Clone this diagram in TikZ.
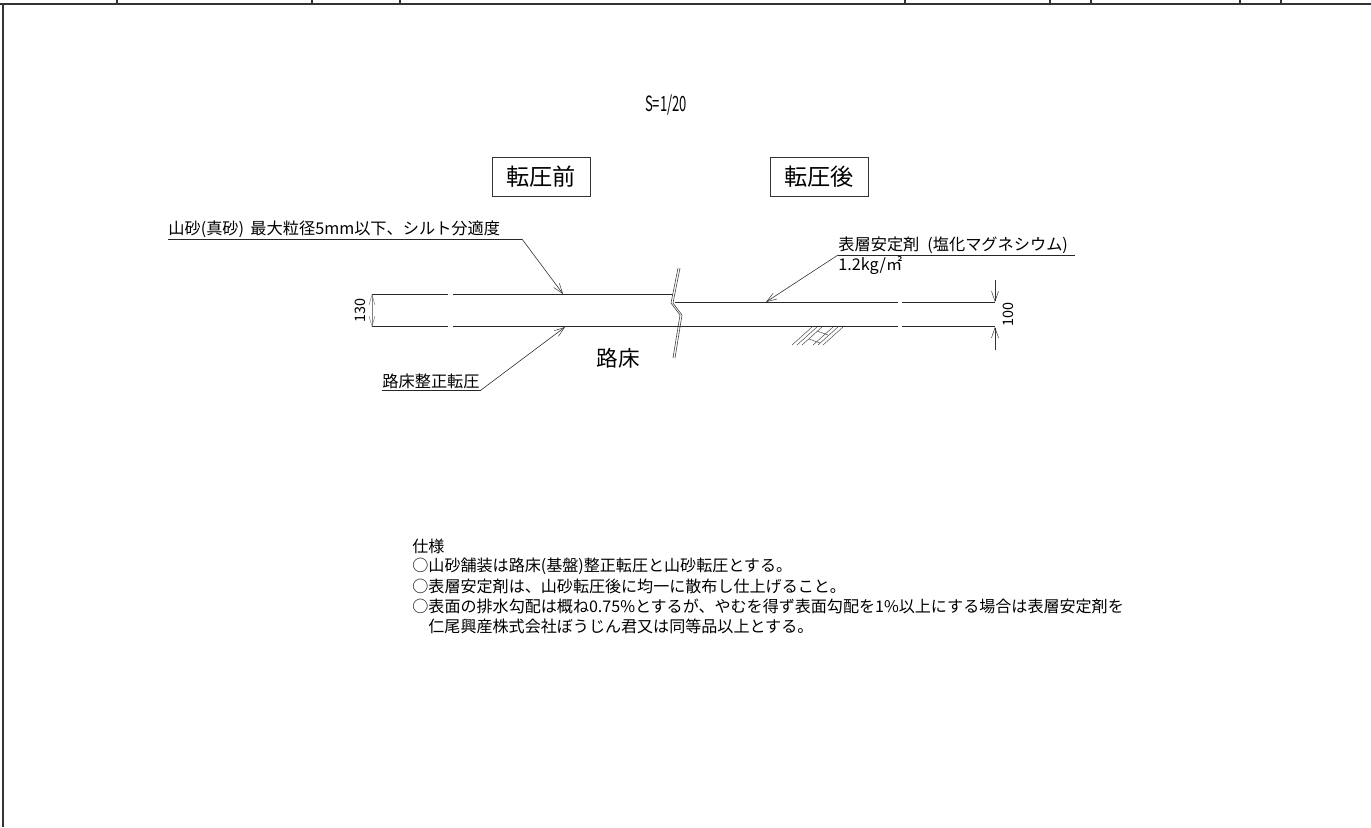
\documentclass[tikz,border=0pt]{standalone}
\usepackage{fontspec}
\setmainfont{Noto Sans CJK JP}
\usetikzlibrary{arrows.meta}
\newcommand{\tikzScale}{0.5}
\newcommand{\noteSize}{\fontsize{8.03}{9}\selectfont}
\newcommand{\labelSize}{\fontsize{8.1}{9}\selectfont}
\newcommand{\dimSize}{\fontsize{7.2}{9}\selectfont}
\newcommand{\titleSize}{\fontsize{11.6}{14}\selectfont}
\tikzset{
  frameline/.style={line width=0.55pt,black!80},
  layerline/.style={line width=0.5pt,black!85},
  leaderline/.style={line width=0.3pt,black!80,-{Straight Barb[length=5pt,width=3.5pt,line width=0.25pt]}},
  underline/.style={line width=0.45pt,black!85},
  hatchline/.style={line width=0.25pt,black!70},
  breakline/.style={line width=0.3pt,black!75},
  notetext/.style={anchor=west,inner sep=0pt,font=\noteSize},
  leadertext/.style={anchor=south west,inner sep=0pt,font=\labelSize},
  titlebox/.style={draw=black!80,line width=0.4pt,minimum width=49pt,minimum height=19.5pt,inner sep=0pt,font=\titleSize}
}

\begin{document}
\begin{tikzpicture}[x=\tikzScale pt, y=-\tikzScale pt]
         \useasboundingbox (0,0) rectangle (1371,827);

         % top frame
         \draw[frameline] (0,4) -- (1371,4);
         \draw[frameline] (3,4) -- (3,827);
         \draw[frameline] (117,0) -- (117,4);
         \draw[frameline] (312,0) -- (312,4);
         \draw[frameline] (400,0) -- (400,4);
         \draw[frameline] (905,0) -- (905,4);
         \draw[frameline] (1050,0) -- (1050,4);
         \draw[frameline] (1091,0) -- (1091,4);
         \draw[frameline] (1240,0) -- (1240,4);
         \draw[frameline] (1281,0) -- (1281,4);

         \node (scale) at (666,105) [font=\fontsize{10.5}{12}\selectfont, inner sep=0pt] {\scalebox{0.62}[1]{S=1/20}};
         \node (before) at (541,176.5) [titlebox] {転圧前};
         \node (after) at (819,176.5) [titlebox] {転圧後};

         % layer before rolling
         \draw[layerline] (372,294) -- (448,294);
         \draw[layerline] (453,294) -- (673,294);
         \draw[layerline] (372,326.5) -- (448,326.5);
         \draw[layerline] (453,326.5) -- (680,326.5);

         % layer after rolling
         \draw[layerline] (675,302) -- (898,302);
         \draw[layerline] (902,302) -- (995,302);
         \draw[layerline] (680,326.5) -- (898,326.5);
         \draw[layerline] (902,326.5) -- (995,326.5);

         % break line
         \draw[breakline] (678,268) -- (671,303) -- (680,315) -- (673,358);
         \draw[breakline] (680,268) -- (673,303) -- (682,315) -- (675,358);

         % hatching under the layer
         \draw[hatchline] (792,345) -- (812,327);
         \draw[hatchline] (797,345) -- (817,327);
         \draw[hatchline] (802,345) -- (822,327);
         \draw[hatchline] (813,345) -- (833,327);
         \draw[hatchline] (818,345) -- (838,327);
         \draw[hatchline] (823,345) -- (843,327);
         \draw[hatchline] (809,339) -- (820,343);
         \draw[hatchline] (817,331) -- (828,335);

         % leaders
         \node (sand) at (168,238) [leadertext] {山砂(真砂)\, 最大粒径5mm以下、シルト分適度};
         \coordinate (sandStart) at (168,239);
         \coordinate (sandEnd) at (522,239);
         \coordinate (sandTip) at (563,294);
         \draw[underline] (sandStart) -- (sandEnd);
         \draw[leaderline] (sandEnd) -- (sandTip);

         \node (subgrade) at (382,389) [leadertext] {路床整正転圧};
         \coordinate (subgradeStart) at (382,390);
         \coordinate (subgradeEnd) at (481,390);
         \coordinate (subgradeTip) at (565,327);
         \draw[underline] (subgradeStart) -- (subgradeEnd);
         \draw[leaderline] (subgradeEnd) -- (subgradeTip);

         \node (agent) at (838,254) [leadertext] {表層安定剤\hspace{4pt}(塩化マグネシウム)};
         \coordinate (agentStart) at (838,255);
         \coordinate (agentEnd) at (1075,255);
         \coordinate (agentTip) at (766,302);
         \draw[underline] (agentStart) -- (agentEnd);
         \draw[leaderline] (agentStart) -- (agentTip);
         \node (amount) at (838,265) [anchor=west, inner sep=0pt, font=\labelSize] {1.2kg/㎡};

         \node (ground) at (618,358) [font=\fontsize{10.8}{13}\selectfont, inner sep=0pt] {路床};

         % dimensions
         \node (dimLeft) at (360,310) [rotate=90, inner sep=0pt, font=\dimSize] {130};
         \coordinate (dimLeftA) at (372,294);
         \coordinate (dimLeftB) at (372,327);
         \draw[leaderline, {Straight Barb[length=5pt,width=3pt,line width=0.25pt]}-{Straight Barb[length=5pt,width=3pt,line width=0.25pt]}, black!50] (dimLeftA) -- (dimLeftB);

         \node (dimRight) at (1008,314) [rotate=90, inner sep=0pt, font=\dimSize] {100};
         \coordinate (dimRightA) at (995,280);
         \coordinate (dimRightB) at (995,302);
         \coordinate (dimRightC) at (995,350);
         \coordinate (dimRightD) at (995,327);
         \draw[leaderline] (dimRightA) -- (dimRightB);
         \draw[leaderline] (dimRightC) -- (dimRightD);

         % notes
         \node (note0) at (412,546) [notetext] {仕様};
         \node (note1) at (412,566) [notetext] {○山砂舗装は路床(基盤)整正転圧と山砂転圧とする。};
         \node (note2) at (412,586.5) [notetext] {○表層安定剤は、山砂転圧後に均一に散布し仕上げること。};
         \node (note3) at (412,606.5) [notetext] {○表面の排水勾配は概ね0.75\%とするが、やむを得ず表面勾配を1\%以上にする場合は表層安定剤を};
         \node (note4) at (428,626.5) [notetext] {仁尾興産株式会社ぼうじん君又は同等品以上とする。};
\end{tikzpicture}
\end{document}
